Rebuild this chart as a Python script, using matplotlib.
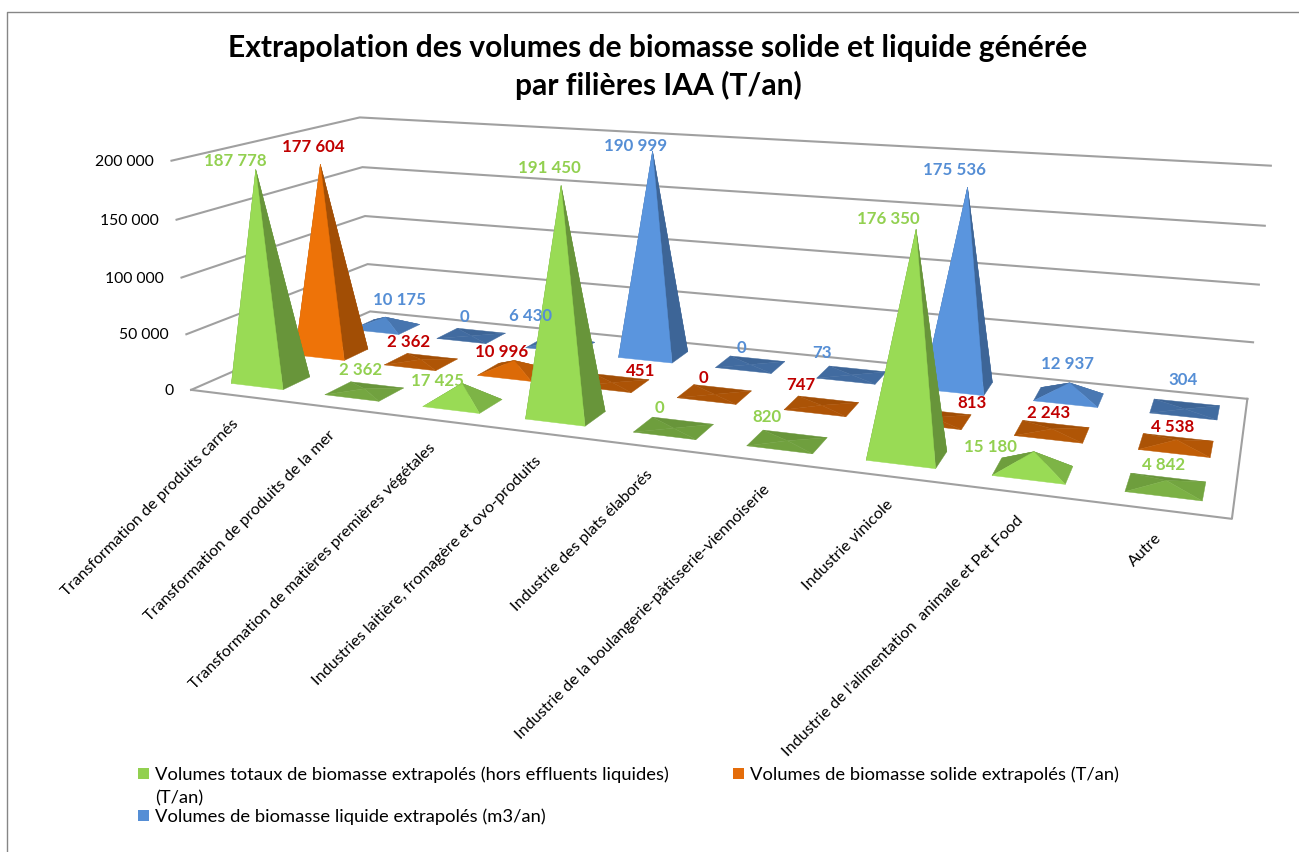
import numpy as np
import matplotlib
matplotlib.use("Agg")
import matplotlib.pyplot as plt
from matplotlib.patches import Polygon, Rectangle

plt.rcParams['font.family'] = ['Lato', 'DejaVu Sans']

categories = ["Transformation de produits carnés", "Transformation de produits de la mer",
              "Transformation de matières premières végétales", "Industries laitière, fromagère et ovo-produits",
              "Industrie des plats élaborés", "Industrie de la boulangerie-pâtisserie-viennoiserie",
              "Industrie vinicole", "Industrie de l'alimentation  animale et Pet Food", "Autre"]
total = [187778, 2362, 17425, 191450, 0, 820, 176350, 15180, 4842]
solid = [177604, 2362, 10996, 451, 0, 747, 813, 2243, 4538]
liquid = [10175, 0, 6430, 190999, 0, 73, 175536, 12937, 304]
y_ticks = [0, 50000, 100000, 150000, 200000]
series_names = ["Volumes totaux de biomasse extrapolés (hors effluents liquides)\n(T/an)",
                "Volumes de biomasse solide extrapolés (T/an)",
                "Volumes de biomasse liquide extrapolés (m3/an)"]
title = "Extrapolation des volumes de biomasse solide et liquide générée\npar filières IAA (T/an)"

# label nudges relative to each pyramid's apex, in pixels
offsets_total = [(-20,-9),(-4,-19),(-24,-2),(-12,-18),(-14,-20),(-20,-24),(-28,-10),(-44,-5),(-3,-15)]
offsets_solid = [(-7,-17),(-12,-17),(-13,-8),(28,-12),(-11,-16),(-21,-20),(38,-15),(-4,-16),(-4,-13)]
offsets_liquid = [(14,-17),(-7,-19),(-30,-22),(-17,-5),(-9,-17),(-30,-22),(-13,-17),(-2,-19),(-2,-29)]

colors = ['#99DB55', '#EE7308', '#5A95DE']
label_colors = ['#92D050', '#C00000', '#558ED5']
ZMAX = 200000.0

# camera calibration: chart-box corners (u, v, z) -> figure pixel
world = np.array([(0,0,0),(0,0,.5),(0,0,1),(0,1,0),(0,1,.5),(0,1,1),(1,1,0),(1,1,.5),(1,1,1),(1,0,0)], float)
image = np.array([(192,389),(182,278),(170,161),(368,312),(367,216),(360,117),(1247,399),(1260,284),(1270,166),(1232,519)], float)/1000
A = []
for (X,Y,Z),(x,y) in zip(world,image):
    A.append([X,Y,Z,1,0,0,0,0,-x*X,-x*Y,-x*Z,-x])
    A.append([0,0,0,0,X,Y,Z,1,-y*X,-y*Y,-y*Z,-y])
P = np.linalg.svd(np.array(A))[2][-1].reshape(3,4)

def proj(u, v, value):
    h = P @ np.array([u, v, value/ZMAX, 1.0])
    return h[0]/h[2]*1000, h[1]/h[2]*1000

fig = plt.figure(figsize=(12.99, 8.52), dpi=100)
ax = fig.add_axes([0, 0, 1, 1])
ax.set_xlim(0, 1299); ax.set_ylim(852, 0); ax.axis('off')

# frame
ax.plot([7.5, 7.5, 1299], [852, 12, 12], color='#868686', lw=1.0, zorder=1)

# walls and floor
GRID = '#a0a0a0'
for t in y_ticks:
    pts = [proj(0,0,t), proj(0,1,t), proj(1,1,t)]
    ax.plot(*zip(*pts), color=GRID, lw=1.5, zorder=2, solid_joinstyle='miter')
    x, y = proj(0,0,t)
    ax.text(x-18, y+1, f"{t:,}".replace(',', ' '), ha='right', va='center', fontsize=11.3, color='black')
floor = [proj(0,0,0), proj(1,0,0), proj(1,1,0)]
ax.plot(*zip(*floor), color=GRID, lw=1.5, zorder=2)

N = len(categories)
HU, HV = 0.031, 0.07
series = [total, solid, liquid]
offsets = [offsets_total, offsets_solid, offsets_liquid]
depths = [1/6, 1/2, 5/6]

def shade(c, f):
    rgb = np.array(matplotlib.colors.to_rgb(c))
    return tuple(np.clip(rgb*f, 0, 1))

z = 10
apexes = {}
for s in [2, 1, 0]:
    for i, val in enumerate(series[s]):
        uc = (i+.5)/N
        vc = depths[s]
        c = [proj(uc-HU, vc-HV, 0), proj(uc+HU, vc-HV, 0), proj(uc+HU, vc+HV, 0), proj(uc-HU, vc+HV, 0)]
        a = proj(uc, vc, val)
        apexes[(s,i)] = a
        t = min(1.0, val/15000)
        tall = val > 50000
        f_front = 0.72 + 0.28*t
        f_right = 0.68 if tall else 0.72 + 0.1*t
        f_left = 0.72
        f_back = 0.68
        faces = [([c[3], c[2], a], f_back), ([c[0], c[3], a], f_left), ([c[1], c[2], a], f_right), ([c[0], c[1], a], f_front)]
        for pts, f in faces:
            col = shade(colors[s], f)
            ax.add_patch(Polygon(pts, closed=True, facecolor=col, edgecolor=col, lw=0.3, zorder=z))
            z += 1

# value labels
for s in range(3):
    for i, val in enumerate(series[s]):
        a = apexes[(s,i)]
        dx, dy = offsets[s][i]
        ax.text(a[0]+dx, a[1]+dy, f"{val:,}".replace(',', ' '), ha='center', va='center', fontsize=12.2, fontweight='bold',
                color=label_colors[s], zorder=500)

# category labels
for i, name in enumerate(categories):
    x, y = proj((i+.5)/N, 0, 0)
    ax.text(x-1, y+26, name, rotation=45, rotation_mode='anchor', ha='right', va='center', fontsize=11.6, color='black', zorder=500)

ax.text(658, 67, title, ha='center', va='center', fontsize=21.6, fontweight='bold', color='black', linespacing=1.4)

# legend
swatches = [(138, 768), (733, 768), (138, 810)]
text_pos = [(155, 766), (750, 766), (155, 808)]
for (sx, sy), (tx, ty), c, name in zip(swatches, text_pos, ['#92D050', '#E46C0A', '#558ED5'], series_names):
    ax.add_patch(Rectangle((sx, sy), 11, 11, facecolor=c, edgecolor='none'))
    ax.text(tx, ty, name, ha='left', va='top', fontsize=13.2, color='black', linespacing=1.6)

fig.savefig('out.png', dpi=100)
